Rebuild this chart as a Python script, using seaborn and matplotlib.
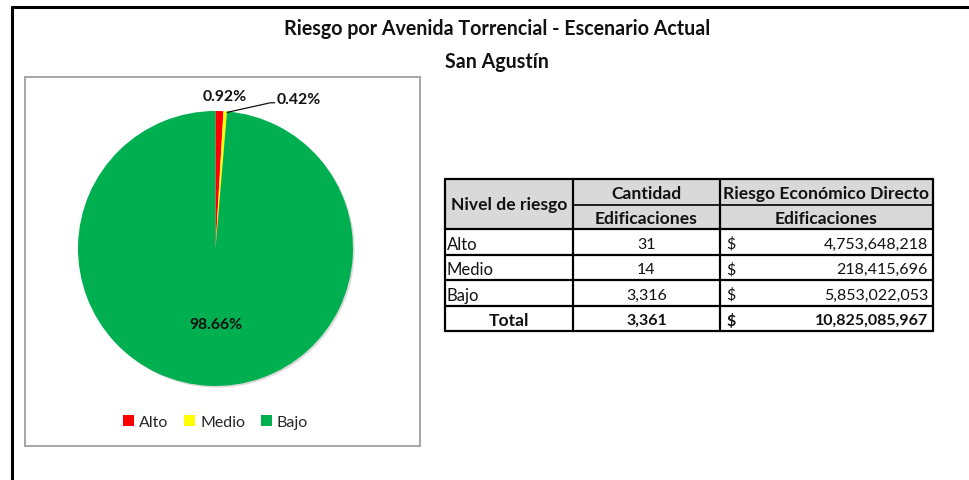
import matplotlib
matplotlib.use("Agg")
import matplotlib.pyplot as plt
import seaborn as sns
from matplotlib.patches import Rectangle, Circle
from matplotlib.lines import Line2D

sns.set_theme(style="white")
plt.rcParams["font.family"] = ["Lato", "DejaVu Sans"]

# Data
niveles = ["Alto", "Medio", "Bajo"]
cantidad = [31, 14, 3316]
riesgo_economico = [4753648218, 218415696, 5853022053]
colores = ["#FF0000", "#FFFF00", "#00B050"]

titulo = "Riesgo por Avenida Torrencial - Escenario Actual"
subtitulo = "San Agustín"
encabezados = ["Nivel de riesgo", "Cantidad", "Edificaciones",
               "Riesgo Económico Directo", "Edificaciones"]

total_cant = sum(cantidad)
total_riesgo = sum(riesgo_economico)
porcentajes = [100 * c / total_cant for c in cantidad]

W, H = 969, 481
fig = plt.figure(figsize=(W / 100, H / 100), dpi=100)
fig.patch.set_facecolor("white")

# Full-figure pixel axes for the frame, titles and table
bg = fig.add_axes([0, 0, 1, 1])
bg.set_xlim(0, W)
bg.set_ylim(H, 0)
bg.axis("off")

TXT = "#111111"
FS_TITLE = 14.1
FS_HEAD = 12.6   # bold header words
FS_WORD = 12     # regular row labels
FS_NUM = 11.5    # numbers

bg.add_line(Line2D([12, W], [8, 8], color="black", lw=2.2))
bg.add_line(Line2D([12, 12], [8, H], color="black", lw=2.2))
bg.text(497, 29, titulo, ha="center", va="center", fontsize=FS_TITLE, fontweight="bold", color=TXT)
bg.text(497, 62, subtitulo, ha="center", va="center", fontsize=FS_TITLE, fontweight="bold", color=TXT)

# Table geometry (pixels)
x0, x1, x2, x3 = 445, 573, 720, 933
y_top, y_mid, y_head = 180, 206, 230
row_h = 25.5
rows_y = [y_head + i * row_h for i in range(5)]

bg.add_patch(Rectangle((x0, y_top), x3 - x0, y_head - y_top, facecolor="#D9D9D9", edgecolor="none"))
lw_t = 1.6
for yy in [y_top] + rows_y:
    bg.add_line(Line2D([x0, x3], [yy, yy], color="black", lw=lw_t))
bg.add_line(Line2D([x1, x3], [y_mid, y_mid], color="black", lw=1.2))
for xx in [x0, x1, x2, x3]:
    bg.add_line(Line2D([xx, xx], [y_top, rows_y[-1]], color="black", lw=lw_t))

cx1 = (x0 + x1) / 2
cx2 = (x1 + x2) / 2
cx3 = (x2 + x3) / 2
bg.text(cx1, (y_top + y_head) / 2, encabezados[0], ha="center", va="center", fontsize=FS_HEAD, fontweight="bold", color=TXT)
bg.text(cx2, (y_top + y_mid) / 2 + 1, encabezados[1], ha="center", va="center", fontsize=FS_HEAD, fontweight="bold", color=TXT)
bg.text(cx2, (y_mid + y_head) / 2 + 1, encabezados[2], ha="center", va="center", fontsize=FS_HEAD, fontweight="bold", color=TXT)
bg.text(cx3, (y_top + y_mid) / 2 + 1, encabezados[3], ha="center", va="center", fontsize=FS_HEAD, fontweight="bold", color=TXT)
bg.text(cx3, (y_mid + y_head) / 2 + 1, encabezados[4], ha="center", va="center", fontsize=FS_HEAD, fontweight="bold", color=TXT)

for i, (niv, c, r) in enumerate(zip(niveles, cantidad, riesgo_economico)):
    yc = rows_y[i] + row_h / 2 + 2
    bg.text(x0 + 2, yc, niv, ha="left", va="center", fontsize=FS_WORD, color=TXT)
    bg.text(cx2, yc, f"{c:,}", ha="center", va="center", fontsize=FS_NUM, color=TXT)
    bg.text(x2 + 6, yc, "$", ha="left", va="center", fontsize=FS_NUM, color=TXT)
    bg.text(x3 - 5, yc, f"{r:,}", ha="right", va="center", fontsize=FS_NUM, color=TXT)

yc = rows_y[3] + row_h / 2 + 2
bg.text(cx1, yc, "Total", ha="center", va="center", fontsize=FS_HEAD, fontweight="bold", color=TXT)
bg.text(cx2, yc, f"{total_cant:,}", ha="center", va="center", fontsize=FS_NUM, fontweight="bold", color=TXT)
bg.text(x2 + 6, yc, "$", ha="left", va="center", fontsize=FS_NUM, fontweight="bold", color=TXT)
bg.text(x3 - 5, yc, f"{total_riesgo:,}", ha="right", va="center", fontsize=FS_NUM, fontweight="bold", color=TXT)

# Pie chart box (pixels), pie centre and radius
bx0, by0, bx1, by1 = 25, 78, 420, 447
pcx, pcy, R = 215.5, 249.5, 137.5
ax = fig.add_axes([bx0 / W, 1 - by1 / H, (bx1 - bx0) / W, (by1 - by0) / H])
wedges, _ = ax.pie(cantidad, colors=colores, startangle=90, counterclock=False,
                   radius=1, center=(0, 0), wedgeprops=dict(linewidth=0))
ax.add_patch(Circle((0.012, -0.012), 1.0, facecolor="#9a9a9a", edgecolor="none", alpha=0.35, zorder=0.5))
for w in wedges:
    w.set_zorder(1)
ax.set_aspect("auto")
ax.set_xlim((bx0 - pcx) / R, (bx1 - pcx) / R)
ax.set_ylim((pcy - by1) / R, (pcy - by0) / R)
ax.set_frame_on(True)
for s in ax.spines.values():
    s.set_color("#A6A6A6")
    s.set_linewidth(1.4)
ax.set_xticks([])
ax.set_yticks([])
ax.set_facecolor("white")

pfs = 11.3
ax.text(0.07, 1.11, f"{porcentajes[0]:.2f}%", ha="center", va="center", fontsize=pfs, fontweight="bold", color=TXT)
ax.text(0.445, 1.087, f"{porcentajes[1]:.2f}%", ha="left", va="center", fontsize=pfs, fontweight="bold", color=TXT)
ax.plot([0.084, 0.40, 0.43], [0.99, 1.06, 1.06], color=TXT, lw=0.9)
ax.text(0.0, -0.55, f"{porcentajes[2]:.2f}%", ha="center", va="center", fontsize=pfs, fontweight="bold", color=TXT)

ax.legend(wedges, niveles, loc="center", bbox_to_anchor=(0.0, -1.262), bbox_transform=ax.transData,
          ncol=3, frameon=False, fontsize=11.5, handlelength=0.7, handleheight=0.7,
          handletextpad=0.3, columnspacing=1.0, borderpad=0)

fig.savefig("out.png", dpi=100, facecolor="white")
